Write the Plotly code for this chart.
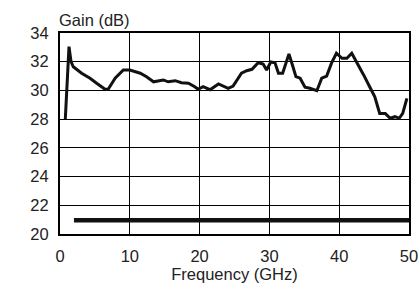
import plotly.graph_objects as go

freq = [0.76, 1.29, 1.58, 1.9, 3.1, 4.3, 5.25, 6.45, 6.9, 7.9, 9.07, 10.0, 11.5, 12.4, 13.4,
        14.8, 15.5, 16.5, 17.4, 18.4, 19.3, 19.8, 20.5, 21.5, 22.7, 24.1, 24.8, 26.0, 26.75,
        27.5, 28.4, 29.1, 29.6, 30.2, 30.8, 31.3, 31.9, 32.8, 33.3, 33.8, 34.4, 35.1, 35.8,
        36.8, 37.5, 38.2, 38.9, 39.6, 40.4, 41.1, 41.8, 42.5, 43.5, 44.4, 45.1, 45.8, 46.6,
        47.3, 48.0, 48.6, 49.1, 49.7]
gain = [28.0, 33.05, 32.0, 31.65, 31.2, 30.85, 30.5, 30.08, 30.08, 30.85, 31.42, 31.42, 31.2,
        30.95, 30.6, 30.73, 30.6, 30.68, 30.54, 30.5, 30.26, 30.08, 30.26, 30.05, 30.45, 30.15,
        30.3, 31.2, 31.37, 31.47, 31.93, 31.84, 31.42, 31.98, 31.93, 31.2, 31.2, 32.54, 31.77,
        30.96, 30.85, 30.22, 30.15, 29.98, 30.85, 31.0, 31.9, 32.59, 32.24, 32.24, 32.59, 32.0,
        31.08, 30.22, 29.56, 28.4, 28.4, 28.06, 28.17, 28.06, 28.4, 29.45]

ref_freq = [2.0, 50.0]
ref_gain = [20.96, 20.96]

x_ticks = [0, 10, 20, 30, 40, 50]
y_ticks = [20, 22, 24, 26, 28, 30, 32, 34]

FONT = "Liberation Sans, Arial, Helvetica, sans-serif"

fig = go.Figure()
fig.add_trace(go.Scatter(x=ref_freq, y=ref_gain, mode="lines",
                         line=dict(color="#111", width=4.5), hoverinfo="skip"))
fig.add_trace(go.Scatter(x=freq, y=gain, mode="lines",
                         line=dict(color="#111", width=3), hoverinfo="skip"))

fig.update_layout(
    width=420, height=290,
    margin=dict(l=60, r=11, t=33, b=56),
    paper_bgcolor="white", plot_bgcolor="white",
    showlegend=False,
    font=dict(family=FONT, size=16.5, color="#222"),
    xaxis=dict(range=[0, 50], tickvals=x_ticks, showgrid=True, gridcolor="#000", gridwidth=1,
               showline=True, linecolor="#000", linewidth=2, mirror=True, ticks="",
               zeroline=False, ticklabelstandoff=6, automargin=False,
               title=dict(text="Frequency (GHz)", font=dict(size=16.5), standoff=2)),
    yaxis=dict(range=[20, 34], tickvals=y_ticks, showgrid=True, gridcolor="#000", gridwidth=1,
               showline=True, linecolor="#000", linewidth=2, mirror=True, ticks="",
               zeroline=False, ticklabelstandoff=6, automargin=False),
    annotations=[dict(text="Gain (dB)", xref="paper", yref="paper",
                      x=(57 - 60) / 349, y=1 + (33 - 20) / 201,
                      xanchor="left", yanchor="middle", showarrow=False)],
)

# remove the browser's default 8px body margin so the figure fills the window exactly
fig.write_html("out.html", config={"displayModeBar": False},
               post_script="document.body.style.margin='0';")
